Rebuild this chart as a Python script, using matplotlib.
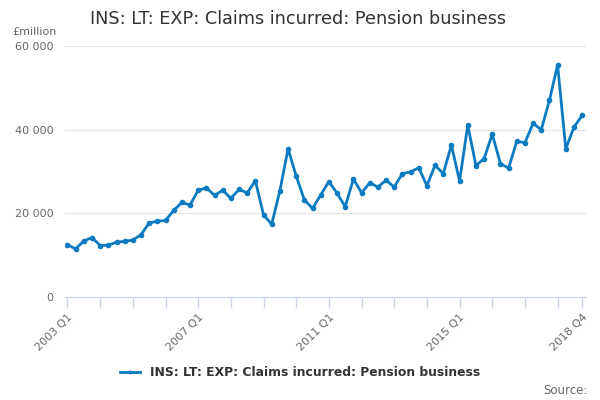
import matplotlib
matplotlib.use("Agg")
import matplotlib.pyplot as plt
from matplotlib.ticker import FuncFormatter

# quarterly values, 2003 Q1 .. 2018 Q4 (GBP million)
quarters = [f"{y} Q{q}" for y in range(2003, 2019) for q in range(1, 5)]
claims = [
    12500, 11500, 13400, 14200, 12300, 12400, 13100, 13300,
    13600, 14900, 17700, 18100, 18300, 20700, 22600, 22000,
    25500, 26100, 24300, 25500, 23600, 25700, 24900, 27800,
    19600, 17400, 25400, 35400, 28900, 23200, 21200, 24400,
    27600, 24800, 21600, 28200, 24900, 27300, 26300, 27900,
    26300, 29500, 29900, 30900, 26600, 31500, 29500, 36300,
    27700, 41100, 31400, 33100, 38900, 31900, 30800, 37200,
    36900, 41500, 40000, 47000, 55500, 35400, 40600, 43400,
]
label_quarters = ["2003 Q1", "2007 Q1", "2011 Q1", "2015 Q1", "2018 Q4"]
series_name = "INS: LT: EXP: Claims incurred: Pension business"

blue = "#0b7bc1"
axis_col = "#ccd6eb"
text_col = "#666666"

fig = plt.figure(figsize=(6, 4), dpi=100)
ax = fig.add_axes([0.108, 0.2575, 0.869, 0.6275])

x = list(range(len(quarters)))
ax.plot(x, claims, color=blue, lw=2, marker="o", ms=3.0, label=series_name)

ax.set_ylim(0, 60000)
ax.set_xlim(-0.33, 63.5)
ax.set_yticks([0, 20000, 40000, 60000])
ax.yaxis.set_major_formatter(FuncFormatter(lambda v, p: f"{int(v):,}".replace(",", " ")))
ax.grid(axis="y", color="#e6e6e6", lw=1)
ax.set_axisbelow(True)

# tick mark every year, labels only on a few
tick_pos = [i for i, q in enumerate(quarters) if q.endswith("Q1")] + [len(quarters) - 1]
ax.set_xticks(tick_pos)
ax.set_xticklabels([quarters[i] if quarters[i] in label_quarters else "" for i in tick_pos],
                   rotation=45, ha="right", rotation_mode="anchor")

for s in ["top", "right", "left"]:
    ax.spines[s].set_visible(False)
ax.spines["bottom"].set_color(axis_col)
ax.tick_params(axis="x", colors=axis_col, length=8, width=1, labelcolor=text_col, labelsize=8, pad=3)
ax.tick_params(axis="y", length=0, labelcolor=text_col, labelsize=8, pad=8)

fig.text(0.497, 0.953, series_name, ha="center", va="center", fontsize=12.7, color="#333333")
fig.text(0.02, 0.92, "£million", ha="left", va="center", fontsize=8, color=text_col)
fig.text(0.98, 0.025, "Source:", ha="right", va="center", fontsize=8.5, color=text_col)

leg = fig.legend(loc="center", bbox_to_anchor=(0.5, 0.068), frameon=False,
                 prop={"weight": "bold", "size": 8.9}, handlelength=1.6, markerscale=0.6)
for t in leg.get_texts():
    t.set_color("#333333")

fig.savefig("out.png", dpi=100)
